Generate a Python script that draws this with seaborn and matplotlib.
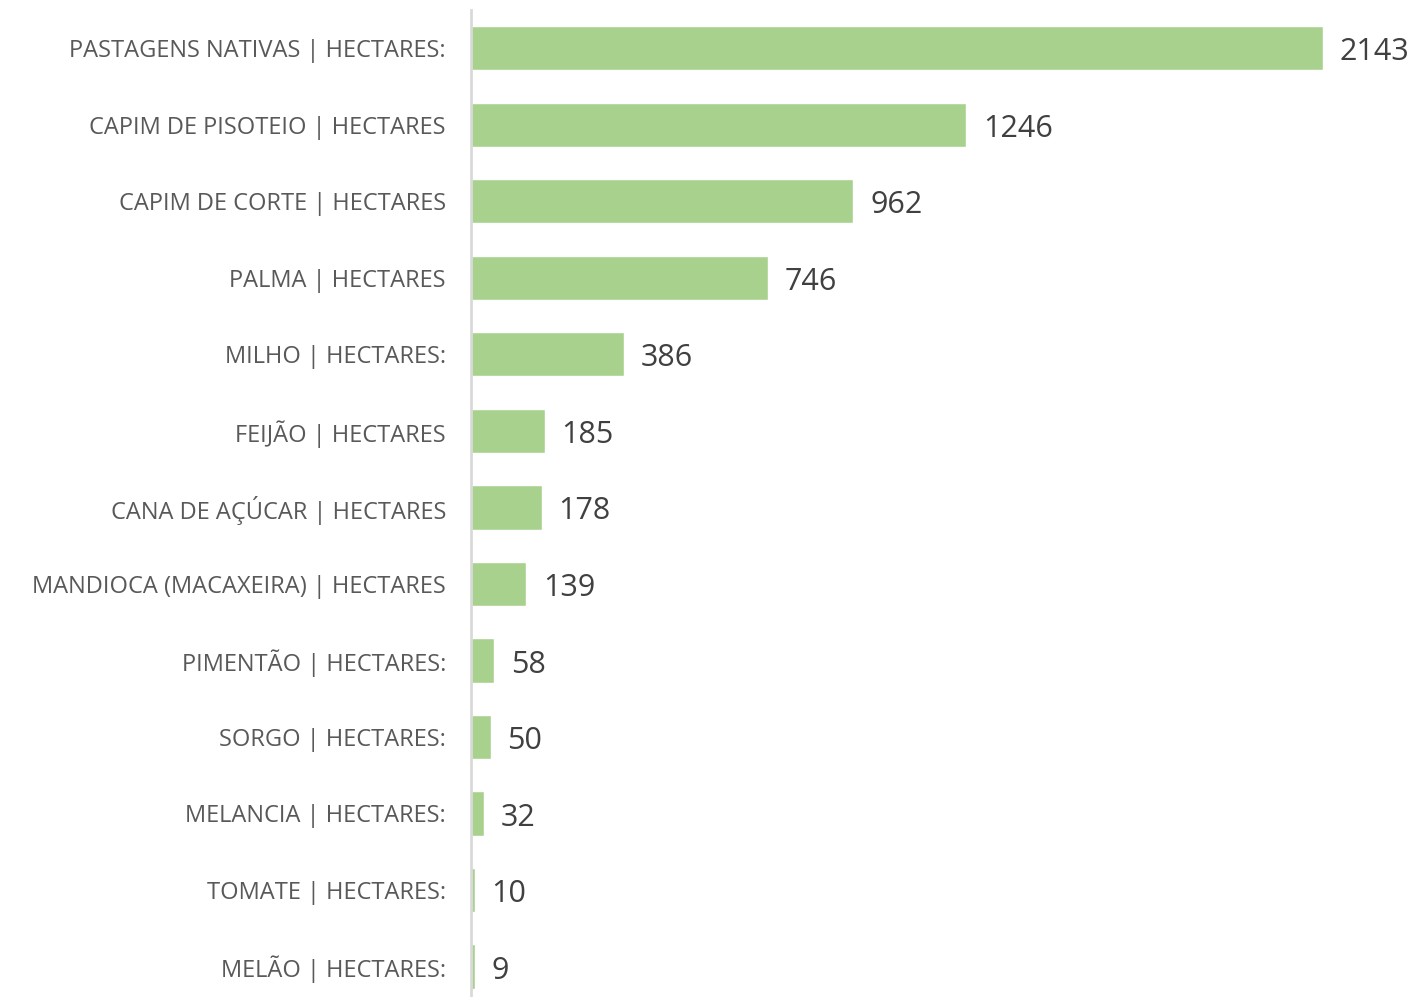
import matplotlib
matplotlib.use("Agg")
import matplotlib.pyplot as plt
import seaborn as sns
import pandas as pd

categories = [
    "PASTAGENS NATIVAS | HECTARES:",
    "CAPIM DE PISOTEIO | HECTARES",
    "CAPIM DE CORTE | HECTARES",
    "PALMA | HECTARES",
    "MILHO | HECTARES:",
    "FEIJÃO | HECTARES",
    "CANA DE AÇÚCAR | HECTARES",
    "MANDIOCA (MACAXEIRA) | HECTARES",
    "PIMENTÃO | HECTARES:",
    "SORGO | HECTARES:",
    "MELANCIA | HECTARES:",
    "TOMATE | HECTARES:",
    "MELÃO | HECTARES:",
]
hectares = [2143, 1246, 962, 746, 386, 185, 178, 139, 58, 50, 32, 10, 9]

df = pd.DataFrame({"cultura": categories, "hectares": hectares})

sns.set_theme(style="white")
plt.rcParams["font.family"] = ["Open Sans", "DejaVu Sans"]

W, H = 1412, 997
fig = plt.figure(figsize=(W / 100, H / 100), dpi=100)
left = 471 / W
ax = fig.add_axes([left, 0.0, 1 - left, (H - 10) / H])

sns.barplot(data=df, x="hectares", y="cultura", orient="h", color="#A9D18E",
            saturation=1, width=0.58, ax=ax)

ax.set_xlim(0, (W - 471) / (852 / 2143))
ax.set_ylim(12.40, -0.5)
ax.set_xlabel("")
ax.set_ylabel("")
ax.set_xticks([])
for s in ["top", "right", "bottom"]:
    ax.spines[s].set_visible(False)
ax.spines["left"].set_color("#D9D9D9")
ax.spines["left"].set_linewidth(2)
ax.tick_params(axis="y", length=0, pad=18, labelsize=17, labelcolor="#595959")

for i, v in enumerate(hectares):
    ax.annotate(f"{v}", xy=(v, i), xytext=(12, -3), textcoords="offset points",
                ha="left", va="center", fontsize=22, color="#404040")

fig.savefig("out.png", dpi=100)
